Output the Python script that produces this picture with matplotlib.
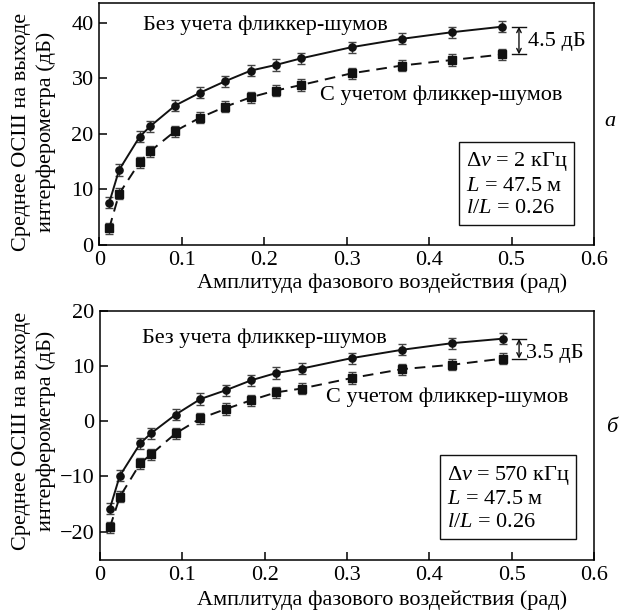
import matplotlib
matplotlib.use("Agg")
import matplotlib.pyplot as plt

plt.rcParams['font.family'] = ['Liberation Serif', 'DejaVu Serif']
plt.rcParams['mathtext.fontset'] = 'custom'
plt.rcParams['mathtext.rm'] = 'Liberation Serif'
plt.rcParams['mathtext.it'] = 'Liberation Serif:italic'

# ---- data ----
x_amp = [0.012, 0.024, 0.049, 0.062, 0.092, 0.122, 0.153, 0.184, 0.214, 0.245, 0.306, 0.367, 0.428, 0.489]

a_no_flicker = [7.6, 13.5, 19.5, 21.4, 25.1, 27.4, 29.5, 31.4, 32.4, 33.6, 35.6, 37.1, 38.3, 39.3]
a_flicker = [3.0, 9.2, 14.9, 16.9, 20.5, 22.9, 24.9, 26.6, 27.8, 28.8, 30.9, 32.3, 33.3, 34.3]

b_no_flicker = [-15.8, -9.9, -4.0, -2.2, 1.2, 4.0, 5.6, 7.4, 8.7, 9.5, 11.4, 12.9, 14.1, 14.9]
b_flicker = [-19.2, -13.7, -7.6, -6.0, -2.2, 0.5, 2.2, 3.8, 5.2, 5.9, 7.8, 9.4, 10.2, 11.3]

err = [1.0] * 14

xticks = [0, 0.1, 0.2, 0.3, 0.4, 0.5, 0.6]
xticklabels = ['0', '0.1', '0.2', '0.3', '0.4', '0.5', '0.6']
a_yticks = [0, 10, 20, 30, 40]
a_yticklabels = ['0', '10', '20', '30', '40']
b_yticks = [-20, -10, 0, 10, 20]
b_yticklabels = ['\u221220', '\u221210', '0', '10', '20']

label_no = 'Без учета фликкер-шумов'
label_fl = 'С учетом фликкер-шумов'
xlabel = 'Амплитуда фазового воздействия (рад)'
ylabel = 'Среднее ОСШ на выходе\nинтерферометра (дБ)'
a_box = '$\\Delta\\nu$ = 2 кГц\n$L$ = 47.5 м\n$l/L$ = 0.26'
b_box = '$\\Delta\\nu$ = 570 кГц\n$L$ = 47.5 м\n$l/L$ = 0.26'
a_gap = '4.5 дБ'
b_gap = '3.5 дБ'

W, H = 619, 616
fig = plt.figure(figsize=(W / 100, H / 100), dpi=100)
FS = 16

def px_axes(l, t, r, b):
    return [l / W, 1 - b / H, (r - l) / W, (b - t) / H]

ax1 = fig.add_axes(px_axes(99.3, 3.3, 594, 245))
ax2 = fig.add_axes(px_axes(100, 310.5, 594, 560))

def draw(ax, ys_no, ys_fl, ylim, yt, ytl, box, gap, lab_pos, box_pos, gap_pos):
    col = '#111111'
    ax.errorbar(x_amp, ys_no, yerr=err, fmt='-o', color=col, ecolor='#444444',
                elinewidth=1.0, capsize=3.2, capthick=1.0, markersize=5.2, lw=1.4)
    ax.errorbar(x_amp, ys_fl, yerr=err, fmt='s', color=col, ecolor='#444444',
                elinewidth=1.0, capsize=3.2, capthick=1.0, markersize=5.6, lw=1.4)
    ax.plot(x_amp, ys_fl, color=col, lw=1.4, dashes=(5.5, 3.5))
    ax.set_xlim(0, 0.6)
    ax.set_ylim(*ylim)
    ax.set_xticks(xticks)
    ax.set_xticklabels(xticklabels)
    ax.set_yticks(yt)
    ax.set_yticklabels(ytl)
    ax.tick_params(direction='in', length=6, width=1.1, labelsize=FS, pad=4,
                   top=False, right=False)
    for s in ax.spines.values():
        s.set_linewidth(1.1)
    ax.text(lab_pos[0][0], lab_pos[0][1], label_no, fontsize=FS, ha='left', va='center')
    ax.text(lab_pos[1][0], lab_pos[1][1], label_fl, fontsize=FS, ha='left', va='center')
    ax.text(box_pos[0], box_pos[1], box, transform=ax.transAxes, fontsize=FS,
            ha='center', va='center', multialignment='left', linespacing=1.25,
            bbox=dict(boxstyle='square,pad=0.3', fc='white', ec=col, lw=1.0))
    # gap bracket
    y_top = ys_no[-1]
    y_bot = ys_fl[-1]
    ax.plot([0.5005, 0.518], [y_top, y_top], color=col, lw=1.0)
    ax.plot([0.5005, 0.518], [y_bot, y_bot], color=col, lw=1.0)
    ax.annotate('', xy=(0.509, y_top), xytext=(0.509, y_bot),
                arrowprops=dict(arrowstyle='<->', color=col, lw=1.0,
                                shrinkA=0, shrinkB=0, mutation_scale=8))
    ax.text(gap_pos[0], gap_pos[1], gap, fontsize=FS, ha='left', va='center')

draw(ax1, a_no_flicker, a_flicker, (0, 43.5), a_yticks, a_yticklabels, a_box, a_gap,
     [(0.053, 39.6), (0.268, 27.0)], (0.844, 0.2515), (0.5195, 36.7))
draw(ax2, b_no_flicker, b_flicker, (-25.1, 20), b_yticks, b_yticklabels, b_box, b_gap,
     [(0.051, 14.9), (0.275, 4.4)], (0.8266, 0.2487), (0.518, 12.3))

# axis labels
fig.text(382.5 / W, 1 - 283 / H, xlabel, fontsize=FS, ha='center', va='center')
fig.text(382.5 / W, 1 - 600 / H, xlabel, fontsize=FS, ha='center', va='center')
fig.text(34 / W, 1 - 132 / H, ylabel, fontsize=FS, ha='center', va='center',
         rotation=90, linespacing=1.32)
fig.text(34 / W, 1 - 431 / H, ylabel, fontsize=FS, ha='center', va='center',
         rotation=90, linespacing=1.32)

# panel letters
fig.text(610 / W, 1 - 122 / H, 'а', fontsize=FS, style='italic', ha='center', va='center')
fig.text(612 / W, 1 - 428 / H, 'б', fontsize=FS, style='italic', ha='center', va='center')

fig.savefig('out.png', dpi=100)
